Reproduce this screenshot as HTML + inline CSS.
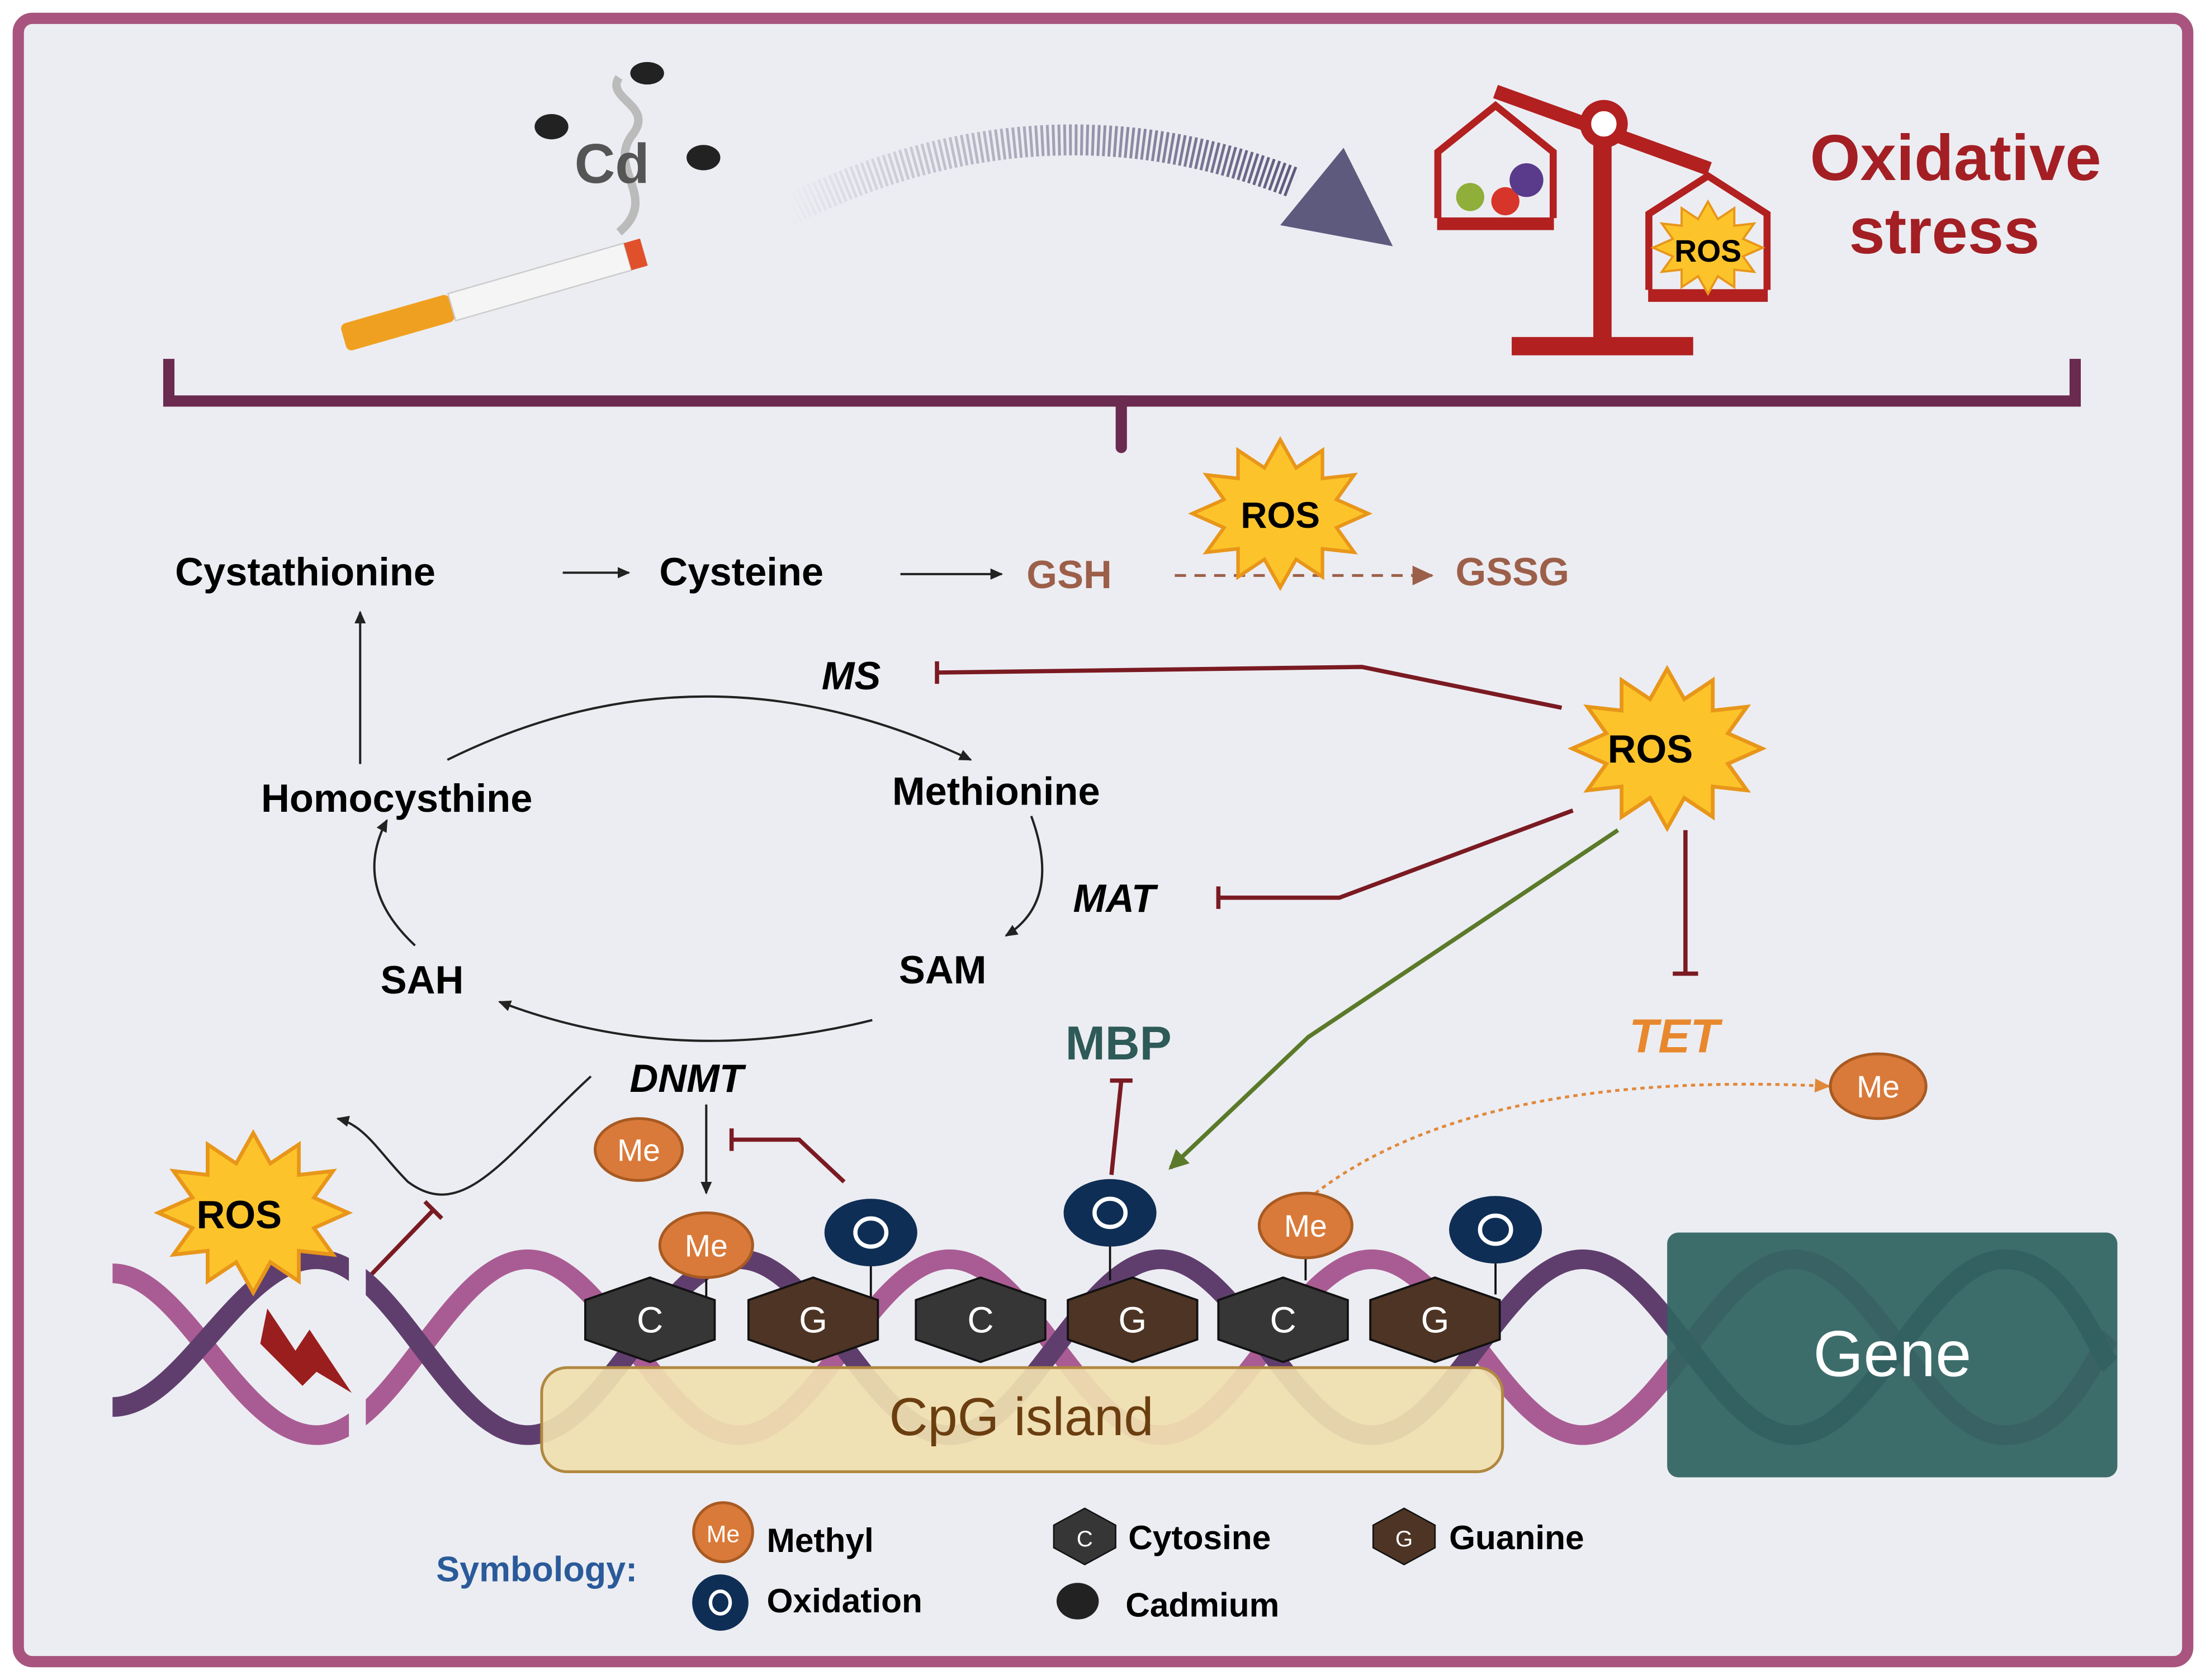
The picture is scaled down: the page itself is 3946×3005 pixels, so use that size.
<!DOCTYPE html>
<html><head><meta charset="utf-8"><style>
html,body{margin:0;padding:0;background:#ecedf2}
svg{display:block}
text{font-family:"Liberation Sans",sans-serif}
</style></head><body>
<svg width="3946" height="3005" viewBox="0 0 1568 1194" xmlns="http://www.w3.org/2000/svg">
<defs>
<marker id="ab" markerWidth="10" markerHeight="10" refX="8" refY="5" orient="auto" markerUnits="userSpaceOnUse"><path d="M0,1 L9,5 L0,9 z" fill="#222"/></marker>
<marker id="abr" markerWidth="16" markerHeight="16" refX="14" refY="8" orient="auto" markerUnits="userSpaceOnUse"><path d="M0,1 L15,8 L0,15 z" fill="#9c5f4a"/></marker>
<marker id="ag" markerWidth="16" markerHeight="16" refX="12" refY="8" orient="auto" markerUnits="userSpaceOnUse"><path d="M0,1 L14,8 L0,15 z" fill="#5a7a2a"/></marker>
<marker id="ao" markerWidth="12" markerHeight="12" refX="10" refY="6" orient="auto" markerUnits="userSpaceOnUse"><path d="M0,1 L11,6 L0,11 z" fill="#e0883a"/></marker>
<linearGradient id="str" x1="0" x2="1"><stop offset="0" stop-color="#5d5a7e" stop-opacity="0"/><stop offset="1" stop-color="#5d5a7e"/></linearGradient>
<g id="burst"><polygon points="0,-42 9,-26 24,-36 24,-20 42,-22 32,-8 50,0 32,8 42,22 24,20 24,36 9,26 0,42 -9,26 -24,36 -24,20 -42,22 -32,8 -50,0 -32,-8 -42,-22 -24,-20 -24,-36 -9,-26" fill="#fcc42a" stroke="#e8961a" stroke-width="2"/></g>
</defs>
<rect x="0" y="0" width="1568" height="1194" fill="#fff"/>
<rect x="13" y="13" width="1542" height="1168" rx="10" fill="#ecedf2" stroke="#a8547f" stroke-width="8"/>

<!-- smoking / cadmium -->
<ellipse cx="392" cy="90" rx="12" ry="9" fill="#222"/>
<ellipse cx="460" cy="52" rx="12" ry="8" fill="#222"/>
<ellipse cx="500" cy="112" rx="12" ry="9" fill="#222"/>
<path d="M440,165 C470,140 430,120 450,95 C465,75 430,70 440,55" fill="none" stroke="#bbb" stroke-width="6"/>
<text x="435" y="130" font-size="40" font-weight="bold" fill="#555" text-anchor="middle">Cd</text>
<g transform="rotate(-16 350 210)">
<rect x="240" y="200" width="80" height="20" rx="4" fill="#f0a020"/>
<rect x="320" y="200" width="130" height="20" fill="#f5f5f5" stroke="#ccc"/>
<rect x="450" y="200" width="12" height="20" fill="#e0502a"/>
</g>
<path d="M560,150 Q740,60 920,130" fill="none" stroke="url(#str)" stroke-width="22" stroke-dasharray="2 2"/>
<polygon points="955,105 990,175 910,160" fill="#5d5a7e"/>

<!-- scale -->
<g fill="#b22020" stroke="#b22020">
<rect x="1133" y="95" width="12" height="150"/>
<rect x="1075" y="240" width="128" height="12"/>
<line x1="1063" y1="65" x2="1215" y2="120" stroke-width="10"/>
<circle cx="1140" cy="88" r="13" fill="#fff" stroke-width="8"/>
<rect x="1022" y="155" width="82" height="8"/>
<rect x="1172" y="206" width="84" height="8"/>
</g>
<polyline points="1022,155 1022,108 1063,75 1104,108 1104,155" fill="none" stroke="#b22020" stroke-width="5"/>
<polyline points="1172,206 1172,152 1214,125 1256,152 1256,206" fill="none" stroke="#b22020" stroke-width="5"/>
<circle cx="1045" cy="140" r="10" fill="#8fae3a"/><circle cx="1070" cy="143" r="10" fill="#d8352a"/><circle cx="1085" cy="128" r="12" fill="#5a3a8a"/>
<use href="#burst" transform="translate(1214,176) scale(0.78)"/>
<text x="1214" y="186" font-size="22" font-weight="bold" text-anchor="middle">ROS</text>
<text x="1390" y="128" font-size="46" font-weight="bold" fill="#a31f24" text-anchor="middle">Oxidative</text>
<text x="1382" y="180" font-size="46" font-weight="bold" fill="#a31f24" text-anchor="middle">stress</text>

<!-- bracket -->
<polyline points="120,255 120,285 1475,285 1475,255" fill="none" stroke="#6b2a4f" stroke-width="8"/>
<line x1="797" y1="285" x2="797" y2="318" stroke="#6b2a4f" stroke-width="8" stroke-linecap="round"/>

<!-- pathway -->
<g font-size="28" font-weight="bold">
<text x="217" y="416" text-anchor="middle">Cystathionine</text>
<text x="527" y="416" text-anchor="middle">Cysteine</text>
<text x="760" y="418" text-anchor="middle" fill="#9c5f4a">GSH</text>
<text x="1075" y="416" text-anchor="middle" fill="#9c5f4a">GSSG</text>
<text x="282" y="577" text-anchor="middle">Homocysthine</text>
<text x="708" y="572" text-anchor="middle">Methionine</text>
<text x="300" y="706" text-anchor="middle">SAH</text>
<text x="670" y="699" text-anchor="middle">SAM</text>
<text x="605" y="490" text-anchor="middle" font-style="italic">MS</text>
<text x="792" y="648" text-anchor="middle" font-style="italic">MAT</text>
<text x="488" y="776" text-anchor="middle" font-style="italic">DNMT</text>
</g>
<g stroke="#222" stroke-width="1.6" fill="none" marker-end="url(#ab)">
<line x1="400" y1="407" x2="447" y2="407"/>
<line x1="640" y1="408" x2="712" y2="408"/>
<line x1="256" y1="543" x2="256" y2="435"/>
<path d="M318,540 Q500,450 690,540"/>
<path d="M733,580 Q755,640 715,665"/>
<path d="M620,725 Q480,760 355,712"/>
<path d="M295,672 Q250,630 275,583"/>
<path d="M420,765 C360,820 330,870 290,840 C270,820 260,800 240,795"/>
<line x1="502" y1="785" x2="502" y2="848"/>
</g>
<line x1="835" y1="409" x2="1018" y2="409" stroke="#9c5f4a" stroke-width="2" stroke-dasharray="8 6" marker-end="url(#abr)"/>
<use href="#burst" transform="translate(910,365) scale(1.25)"/>
<text x="910" y="375" font-size="26" font-weight="bold" text-anchor="middle">ROS</text>

<!-- inhibitions -->
<g stroke="#7a1a22" stroke-width="3" fill="none">
<polyline points="1110,503 968,474 666,478"/><line x1="666" y1="470" x2="666" y2="486"/>
<polyline points="1118,576 952,638 866,638"/><line x1="866" y1="630" x2="866" y2="646"/>
<line x1="1198" y1="590" x2="1198" y2="692"/><line x1="1189" y1="692" x2="1207" y2="692"/>
<line x1="790" y1="835" x2="797" y2="768"/><line x1="789" y1="768" x2="805" y2="768"/>
<polyline points="600,840 568,810 520,810"/><line x1="520" y1="802" x2="520" y2="818"/>
<line x1="258" y1="912" x2="308" y2="860"/><line x1="302" y1="854" x2="314" y2="866"/>
</g>
<polyline points="1150,590 930,737 832,830" fill="none" stroke="#5a7a2a" stroke-width="3" marker-end="url(#ag)"/>
<use href="#burst" transform="translate(1185,532) scale(1.35)"/>
<text x="1173" y="542" font-size="28" font-weight="bold" text-anchor="middle">ROS</text>
<text x="795" y="753" font-size="34" font-weight="bold" fill="#2e5a58" text-anchor="middle">MBP</text>
<text x="1190" y="748" font-size="34" font-weight="bold" font-style="italic" fill="#e8882e" text-anchor="middle">TET</text>
<path d="M935,848 Q1050,760 1300,772" fill="none" stroke="#e0883a" stroke-width="2" stroke-dasharray="3 3" marker-end="url(#ao)"/>
<ellipse cx="1335" cy="772" rx="34" ry="23" fill="#d97a3a" stroke="#a85a22" stroke-width="2"/>
<text x="1335" y="780" font-size="22" fill="#fff" text-anchor="middle">Me</text>
<ellipse cx="454" cy="817" rx="31" ry="22" fill="#d97a3a" stroke="#a85a22" stroke-width="2"/>
<text x="454" y="825" font-size="22" fill="#fff" text-anchor="middle">Me</text>

<!-- DNA -->
<g fill="none" stroke-width="14">
<path d="M80,905 C130,905 170,1020 225,1020 C280,1020 320,895 375,895 C430,895 470,1020 525,1020 C580,1020 620,895 675,895 C730,895 770,1020 825,1020 C880,1020 920,895 975,895 C1030,895 1070,1020 1125,1020 C1180,1020 1220,895 1275,895 C1330,895 1370,1020 1425,1020 C1470,1020 1490,960 1500,950" stroke="#a95c93"/>
<path d="M80,1000 C130,1000 170,895 225,895 C280,895 320,1020 375,1020 C430,1020 470,895 525,895 C580,895 620,1020 675,1020 C730,1020 770,895 825,895 C880,895 920,1020 975,1020 C1030,1020 1070,895 1125,895 C1180,895 1220,1020 1275,1020 C1330,1020 1370,895 1425,895 C1470,895 1490,960 1500,970" stroke="#5f3e6e"/>
</g>
<rect x="248" y="880" width="12" height="150" fill="#ecedf2"/>
<polygon points="190,930 210,960 220,945 250,990 225,975 215,985 185,955" fill="#9a1e1e"/>
<use href="#burst" transform="translate(180,862) scale(1.35)"/>
<text x="170" y="873" font-size="28" font-weight="bold" text-anchor="middle">ROS</text>

<rect x="1185" y="876" width="320" height="174" rx="8" fill="#2f6360" fill-opacity="0.93"/>
<text x="1345" y="978" font-size="46" fill="#fff" text-anchor="middle">Gene</text>
<rect x="385" y="972" width="683" height="74" rx="18" fill="#f0dfb0" fill-opacity="0.92" stroke="#b08840" stroke-width="2"/>
<text x="726" y="1020" font-size="38" fill="#6b3e10" text-anchor="middle">CpG island</text>

<g stroke="#111" stroke-width="1.5">
<line x1="502" y1="905" x2="502" y2="925"/><line x1="619" y1="895" x2="619" y2="925"/><line x1="789" y1="880" x2="789" y2="910"/><line x1="928" y1="890" x2="928" y2="910"/><line x1="1063" y1="893" x2="1063" y2="920"/>
</g>
<g font-size="26" fill="#fff" text-anchor="middle" stroke="#111" stroke-width="1.5">
<polygon transform="translate(462,938)" points="-46,-14 0,-30 46,-14 46,14 0,30 -46,14" fill="#363636"/>
<polygon transform="translate(578,938)" points="-46,-14 0,-30 46,-14 46,14 0,30 -46,14" fill="#4e3424"/>
<polygon transform="translate(697,938)" points="-46,-14 0,-30 46,-14 46,14 0,30 -46,14" fill="#363636"/>
<polygon transform="translate(805,938)" points="-46,-14 0,-30 46,-14 46,14 0,30 -46,14" fill="#4e3424"/>
<polygon transform="translate(912,938)" points="-46,-14 0,-30 46,-14 46,14 0,30 -46,14" fill="#363636"/>
<polygon transform="translate(1020,938)" points="-46,-14 0,-30 46,-14 46,14 0,30 -46,14" fill="#4e3424"/>
</g>
<g font-size="26" fill="#fff" text-anchor="middle">
<text x="462" y="947">C</text><text x="578" y="947">G</text><text x="697" y="947">C</text><text x="805" y="947">G</text><text x="912" y="947">C</text><text x="1020" y="947">G</text>
</g>
<ellipse cx="502" cy="885" rx="33" ry="23" fill="#d97a3a" stroke="#a85a22" stroke-width="2"/>
<text x="502" y="893" font-size="22" fill="#fff" text-anchor="middle">Me</text>
<ellipse cx="928" cy="871" rx="33" ry="23" fill="#d97a3a" stroke="#a85a22" stroke-width="2"/>
<text x="928" y="879" font-size="22" fill="#fff" text-anchor="middle">Me</text>
<g fill="#0f2e55"><ellipse cx="619" cy="876" rx="33" ry="24"/><ellipse cx="789" cy="862" rx="33" ry="24"/><ellipse cx="1063" cy="874" rx="33" ry="24"/></g>
<g fill="none" stroke="#fff" stroke-width="3"><ellipse cx="619" cy="876" rx="11" ry="10"/><ellipse cx="789" cy="862" rx="11" ry="10"/><ellipse cx="1063" cy="874" rx="11" ry="10"/></g>

<!-- legend -->
<text x="310" y="1124" font-size="25" font-weight="bold" fill="#2a5a9a">Symbology:</text>
<circle cx="514" cy="1089" r="21" fill="#d97a3a" stroke="#a85a22" stroke-width="2"/>
<text x="514" y="1096" font-size="17" fill="#fff" text-anchor="middle">Me</text>
<text x="545" y="1103" font-size="24" font-weight="bold">Methyl</text>
<circle cx="512" cy="1139" r="20" fill="#0f2e55"/>
<ellipse cx="512" cy="1139" rx="7" ry="8" fill="none" stroke="#fff" stroke-width="2.5"/>
<text x="545" y="1146" font-size="24" font-weight="bold">Oxidation</text>
<polygon transform="translate(771,1092)" points="-22,-8 0,-20 22,-8 22,8 0,20 -22,8" fill="#363636" stroke="#111"/>
<text x="771" y="1099" font-size="16" fill="#fff" text-anchor="middle">C</text>
<text x="802" y="1101" font-size="24" font-weight="bold">Cytosine</text>
<ellipse cx="766" cy="1138" rx="15" ry="13" fill="#222"/>
<text x="800" y="1149" font-size="24" font-weight="bold">Cadmium</text>
<polygon transform="translate(998,1092)" points="-22,-8 0,-20 22,-8 22,8 0,20 -22,8" fill="#4e3424" stroke="#111"/>
<text x="998" y="1099" font-size="16" fill="#fff" text-anchor="middle">G</text>
<text x="1030" y="1101" font-size="24" font-weight="bold">Guanine</text>
</svg>
</body></html>
